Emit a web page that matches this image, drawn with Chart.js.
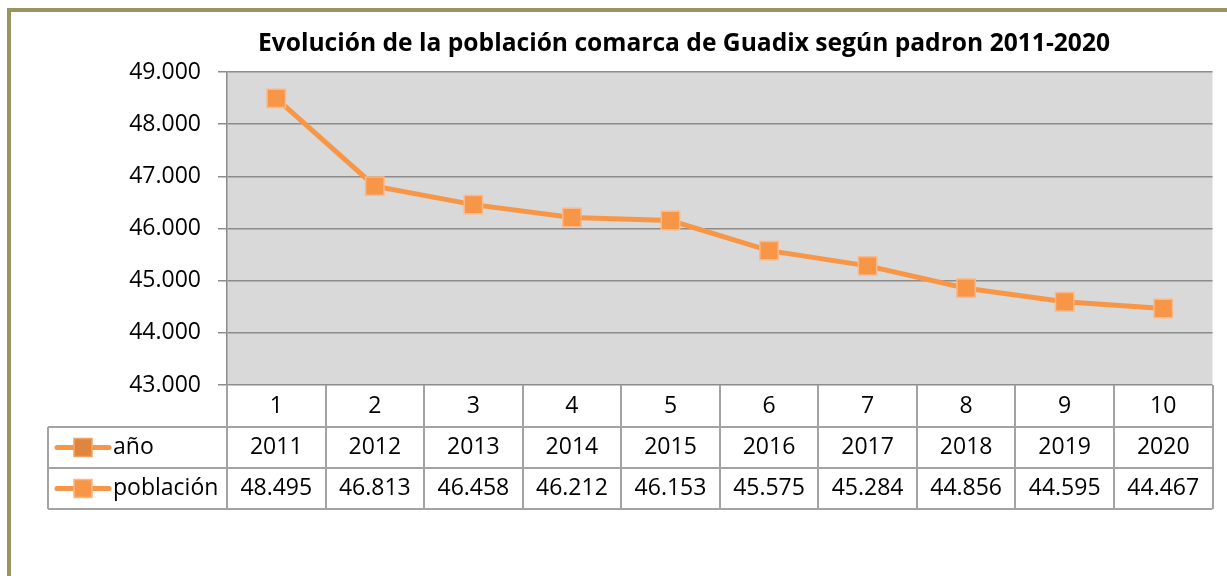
<!DOCTYPE html>
<html>
<head>
<meta charset="utf-8">
<script src="https://cdn.jsdelivr.net/npm/chart.js@4"></script>
<style>
  body { margin: 0; background: #fff; }
  #wrap { width: 1227px; height: 576px; position: relative; }
</style>
</head>
<body>
<div id="wrap"><canvas id="chart"></canvas></div>
<script>
// data
const categories = ["1", "2", "3", "4", "5", "6", "7", "8", "9", "10"];
const years = [2011, 2012, 2013, 2014, 2015, 2016, 2017, 2018, 2019, 2020];
const population = [48495, 46813, 46458, 46212, 46153, 45575, 45284, 44856, 44595, 44467];
const yMin = 43000;
const yMax = 49000;
const yStep = 1000;
const titleText = "Evolución de la población comarca de Guadix según padron 2011-2020";

const FONT = "'Open Sans', sans-serif";
const ORANGE = "#f79646";
const GRID = "#8c8c8c";
const TABLE_LINE = "#a3a3a3";

function fmt(v) {
    return String(v).replace(/\B(?=(\d{3})+(?!\d))/g, ".");
}

// gray plot area, olive frame and the title
const background = {
    id: "background",
    beforeDraw(chart) {
        const { ctx, chartArea } = chart;
        ctx.save();
        ctx.fillStyle = "#d9d9d9";
        ctx.fillRect(chartArea.left, chartArea.top, chartArea.right - chartArea.left, chartArea.bottom - chartArea.top);
        ctx.strokeStyle = "#9b9461";
        ctx.lineWidth = 4;
        ctx.strokeRect(9, 10, 1400, 800);

        ctx.fillStyle = "#000";
        ctx.font = "bold 24.6px " + FONT;
        ctx.textAlign = "center";
        ctx.textBaseline = "alphabetic";
        ctx.fillText(titleText, 684, 51);
        ctx.restore();
    }
};

function legendKey(ctx, y, fill, border) {
    ctx.strokeStyle = ORANGE;
    ctx.lineWidth = 5;
    ctx.lineCap = "round";
    ctx.beginPath();
    ctx.moveTo(57, y);
    ctx.lineTo(109, y);
    ctx.stroke();
    ctx.fillStyle = fill;
    ctx.fillRect(74, y - 9, 18, 18);
    ctx.strokeStyle = border;
    ctx.lineWidth = 1.5;
    ctx.strokeRect(74, y - 9, 18, 18);
}

// data table under the plot
const dataTable = {
    id: "dataTable",
    afterDraw(chart) {
        const { ctx, chartArea, scales } = chart;
        const x = scales.x;
        const top = chartArea.bottom;
        const rows = [top, 427, 468, 509];
        const leftEdge = 48;
        const n = categories.length;
        const colW = (chartArea.right - chartArea.left) / n;

        ctx.save();
        ctx.strokeStyle = TABLE_LINE;
        ctx.lineWidth = 2;
        ctx.beginPath();
        for (let i = 0; i <= n; i++) {
            const cx = Math.round(chartArea.left + i * colW);
            ctx.moveTo(cx, top);
            ctx.lineTo(cx, rows[3]);
        }
        for (let r = 1; r < rows.length; r++) {
            ctx.moveTo(leftEdge, rows[r]);
            ctx.lineTo(chartArea.right, rows[r]);
        }
        ctx.moveTo(leftEdge, rows[1]);
        ctx.lineTo(leftEdge, rows[3]);
        ctx.stroke();

        ctx.fillStyle = "#000";
        ctx.font = "23px " + FONT;
        ctx.textAlign = "center";
        ctx.textBaseline = "middle";
        for (let i = 0; i < n; i++) {
            const cx = x.getPixelForValue(i);
            ctx.fillText(categories[i], cx, (rows[0] + rows[1]) / 2);
            ctx.fillText(String(years[i]), cx, (rows[1] + rows[2]) / 2);
            ctx.fillText(fmt(population[i]), cx, (rows[2] + rows[3]) / 2);
        }

        const yA = (rows[1] + rows[2]) / 2;
        const yP = (rows[2] + rows[3]) / 2;
        legendKey(ctx, yA, "#e0853e", "#f0a564");
        legendKey(ctx, yP, ORANGE, "#fbb88a");
        ctx.fillStyle = "#000";
        ctx.textAlign = "left";
        ctx.fillText("año", 113, yA);
        ctx.fillText("población", 113, yP);
        ctx.restore();
    }
};

const chart = new Chart(document.getElementById("chart"), {
    type: "line",
    data: {
        labels: categories,
        datasets: [{
            label: "población",
            data: population,
            borderColor: ORANGE,
            borderWidth: 5,
            backgroundColor: ORANGE,
            pointStyle: "rect",
            pointRadius: 13,
            pointHoverRadius: 13,
            pointBackgroundColor: ORANGE,
            pointBorderColor: "#fbb88a",
            pointBorderWidth: 1.5,
            tension: 0
        }]
    },
    options: {
        responsive: true,
        maintainAspectRatio: false,
        animation: false,
        layout: { padding: { top: 72, right: 8, bottom: 191, left: 0 } },
        plugins: {
            legend: { display: false },
            tooltip: { enabled: false },
            title: { display: false }
        },
        scales: {
            x: {
                display: false,
                offset: true
            },
            y: {
                min: yMin,
                max: yMax,
                afterFit(scale) { scale.width = 227; },
                ticks: {
                    stepSize: yStep,
                    padding: 17,
                    color: "#000",
                    font: { family: FONT, size: 23 },
                    callback: v => fmt(v)
                },
                grid: {
                    color: GRID,
                    lineWidth: 1.5,
                    tickLength: 9
                },
                border: { display: true, color: GRID, width: 1.5 }
            }
        }
    },
    plugins: [background, dataTable]
});
</script>
</body>
</html>
